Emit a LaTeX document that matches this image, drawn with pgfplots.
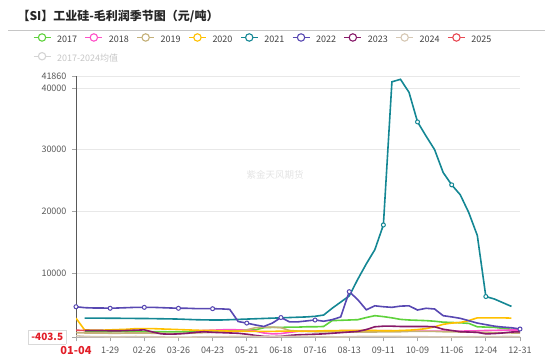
\documentclass[border=0pt]{standalone}
\usepackage{fontspec}
\setmainfont{Noto Sans CJK SC}
\usepackage{pgfplots}
\pgfplotsset{compat=1.18}
\definecolor{c17}{RGB}{95,210,60}
\definecolor{c18}{RGB}{255,80,200}
\definecolor{c19}{RGB}{196,176,120}
\definecolor{c20}{RGB}{255,192,0}
\definecolor{c21}{RGB}{20,135,148}
\definecolor{c22}{RGB}{88,72,178}
\definecolor{c23}{RGB}{135,25,105}
\definecolor{c24}{RGB}{214,200,180}
\definecolor{c25}{RGB}{232,72,82}
\definecolor{cavg}{RGB}{212,212,212}
\definecolor{ptred}{RGB}{226,30,40}
\begin{document}
\begin{tikzpicture}
\path[use as bounding box] (0,0) rectangle (550bp,357bp);
\node[anchor=west, font=\bfseries\fontsize{12bp}{14bp}\selectfont, text=black!85] at (14bp,341bp) {【SI】工业硅-毛利润季节图（元/吨）};
\draw[gray!45, line width=0.8bp] (8bp,327bp) -- (545bp,327bp);
\node[text=gray!22, font=\fontsize{9.5bp}{11bp}\selectfont] at (275bp,182bp) {紫金天风期货};
\begin{axis}[
  at={(76bp,19.7bp)}, anchor=south west,
  scale only axis, width=444bp, height=260.8bp,
  xmin=0, xmax=52, ymin=-403.5, ymax=41860,
  scaled y ticks=false,
  axis lines=left, axis line style={-},
  x axis line style={draw=gray!60, line width=0.8bp},
  y axis line style={draw=black!65, line width=0.8bp},
  xtick={0,4,...,52},
  xticklabels={{\textcolor{ptred}{\bfseries\fontsize{11bp}{13bp}\selectfont 01-04}},1-29,02-26,03-26,04-23,05-21,06-18,07-16,08-13,09-11,10-09,11-06,12-04,12-31},
  ytick={-403.5,10000,20000,30000,40000,41860},
  yticklabels={{\fcolorbox{gray!30}{white}{\textcolor{ptred}{\bfseries\fontsize{10bp}{12bp}\selectfont -403.5}}},10000,20000,30000,40000,41860},
  tick align=outside, major tick length=4bp,
  tick style={draw=gray!70, line width=0.8bp},
  ymajorgrids, major grid style={draw=gray!18, line width=0.8bp},
  ticklabel style={font=\fontsize{9bp}{11bp}\selectfont, text=black!65},
  xticklabel style={yshift=-2bp},
  yticklabel style={xshift=-2bp},
  legend columns=9,
  legend cell align=left,
  legend image code/.code={\draw[#1] (0bp,3bp) -- (17bp,3bp); \draw[#1, fill=white] (8.5bp,3bp) circle (3.7bp);},
  legend style={at={(-0.09685,1.1659)}, anchor=north west, draw=none, fill=none,
    inner sep=0pt, outer sep=0pt, row sep=7bp,
    font=\fontsize{9bp}{11bp}\selectfont, text=black!75,
    nodes={inner sep=0pt, text height=7bp, text depth=2bp},
    /tikz/every odd column/.style={column sep=6bp},
    /tikz/every even column/.style={column sep=5.7bp}},
]
\addlegendimage{draw=c17, line width=1.1bp}\addlegendentry{\makebox[22bp][l]{2017}}
\addlegendimage{draw=c18, line width=1.1bp}\addlegendentry{\makebox[22bp][l]{2018}}
\addlegendimage{draw=c19, line width=1.1bp}\addlegendentry{\makebox[22bp][l]{2019}}
\addlegendimage{draw=c20, line width=1.1bp}\addlegendentry{\makebox[22bp][l]{2020}}
\addlegendimage{draw=c21, line width=1.1bp}\addlegendentry{\makebox[22bp][l]{2021}}
\addlegendimage{draw=c22, line width=1.1bp}\addlegendentry{\makebox[22bp][l]{2022}}
\addlegendimage{draw=c23, line width=1.1bp}\addlegendentry{\makebox[22bp][l]{2023}}
\addlegendimage{draw=c24, line width=1.1bp}\addlegendentry{\makebox[22bp][l]{2024}}
\addlegendimage{draw=c25, line width=1.1bp}\addlegendentry{\makebox[22bp][l]{2025}}
\addlegendimage{draw=cavg, line width=1.1bp}\addlegendentry{\makebox[22bp][l]{\textcolor{gray!45}{2017-2024均值}}}

% 2017
\addplot[c17, line width=1.6bp, forget plot] coordinates {
(1,550)(2,550)(3,500)(4,500)(5,520)(6,500)(7,500)(8,480)(9,500)(10,500)(11,480)(12,480)(13,500)(14,500)(15,520)(16,550)(17,600)(18,650)(19,700)(20,750)(21,800)(22,1150)(23,1200)(24,1200)(25,1250)(26,1250)(27,1300)(28,1300)(29,1350)(30,2300)(31,2350)(32,2400)(33,2450)(34,2800)(35,3100)(36,2950)(37,2750)(38,2500)(39,2400)(40,2350)(41,2300)(42,2200)(43,2050)(44,2000)(45,1950)(46,1850)(47,1300)(48,1250)(49,1200)(50,1050)(51,900)(52,700)};
% 2018
\addplot[c18, line width=1.6bp, forget plot] coordinates {
(14,650)(15,700)(16,750)(17,800)(18,850)(19,800)(20,750)(21,600)(22,300)(23,150)(24,200)(25,400)(26,550)(27,600)(28,600)(29,600)(30,620)(31,650)(32,650)(33,650)(34,650)(35,650)(36,650)(37,650)(38,620)(39,600)(40,600)(41,600)(42,600)(43,600)(44,600)(45,600)(46,620)(47,650)(48,700)(49,720)(50,750)(51,780)(52,780)};
% 2019
\addplot[c19, line width=1.6bp, forget plot] coordinates {
(0,350)(1,300)(2,300)(3,300)(4,250)(5,250)(6,300)(7,300)(8,300)(9,250)(10,250)(11,200)(12,200)(13,250)(14,300)(15,350)(16,400)(17,450)(18,500)(19,600)(20,800)(21,1150)(22,1250)(23,1250)(24,1150)(25,700)(26,600)(27,550)(28,500)(29,500)(30,500)(31,450)(32,450)(33,450)(34,450)(35,450)(36,500)(37,500)(38,500)(39,550)(40,550)(41,550)(42,550)(43,500)(44,500)(45,450)(46,450)(47,400)(48,400)(49,350)(50,350)(51,300)(52,300)};
% 2020
\addplot[c20, line width=1.6bp, forget plot] coordinates {
(0,2700)(1,800)(2,750)(3,750)(4,800)(5,850)(6,900)(7,1000)(8,1000)(9,1000)(10,950)(11,900)(12,850)(13,800)(14,750)(15,700)(16,700)(17,650)(18,600)(19,600)(20,550)(21,550)(22,550)(23,550)(24,600)(25,600)(26,600)(27,600)(28,600)(29,650)(30,650)(31,700)(32,700)(33,700)(34,700)(35,700)(36,650)(37,650)(38,700)(39,750)(40,850)(41,1000)(42,1300)(43,1700)(44,1900)(45,2000)(46,2300)(47,2750)(48,2750)(49,2750)(50,2750)(51,2700)};
% 2021
\addplot[c21, line width=1.6bp, forget plot, mark=*, mark size=2bp, mark options={fill=white, draw=c21, line width=1bp}, mark indices={36,40,44,48}] coordinates {
(1,2700)(2,2700)(3,2700)(4,2680)(5,2680)(6,2660)(7,2650)(8,2650)(9,2620)(10,2600)(11,2580)(12,2550)(13,2500)(14,2450)(15,2420)(16,2400)(17,2400)(18,2450)(19,2500)(20,2550)(21,2600)(22,2650)(23,2700)(24,2750)(25,2800)(26,2850)(27,2900)(28,3000)(29,3200)(30,4300)(31,5300)(32,6300)(33,9000)(34,11500)(35,13800)(36,17800)(37,41000)(38,41400)(39,39300)(40,34500)(41,32200)(42,30000)(43,26300)(44,24300)(45,22700)(46,19800)(47,16100)(48,6200)(49,5800)(50,5200)(51,4600)};
% 2022
\addplot[c22, line width=1.6bp, forget plot, mark=*, mark size=2bp, mark options={fill=white, draw=c22, line width=1bp}, mark indices={1,5,9,13,17,21,25,29,33,53}] coordinates {
(0,4550)(1,4400)(2,4350)(3,4350)(4,4300)(5,4350)(6,4400)(7,4450)(8,4450)(9,4450)(10,4400)(11,4350)(12,4300)(13,4300)(14,4250)(15,4250)(16,4230)(17,4200)(18,4130)(19,2150)(20,1900)(21,1600)(22,1350)(23,1900)(24,2800)(25,2100)(26,2100)(27,2250)(28,2400)(29,2200)(30,2450)(31,2900)(32,6990)(33,5700)(34,4050)(35,4700)(36,4550)(37,4450)(38,4650)(39,4700)(40,4020)(41,4300)(42,4180)(43,3100)(44,2900)(45,2670)(46,2290)(47,1900)(48,1650)(49,1400)(50,1250)(51,1150)(52,940)};
% 2023
\addplot[c23, line width=1.6bp, forget plot] coordinates {
(1,700)(2,700)(3,700)(4,650)(5,650)(6,700)(7,750)(8,800)(9,450)(10,150)(11,100)(12,150)(13,250)(14,400)(15,500)(16,400)(17,350)(18,300)(19,250)(20,100)(21,-100)(22,-250)(23,-300)(24,-250)(25,-100)(26,0)(27,50)(28,100)(29,150)(30,250)(31,350)(32,450)(33,550)(34,850)(35,1300)(36,1400)(37,1400)(38,1350)(39,1350)(40,1350)(41,1350)(42,1300)(43,900)(44,700)(45,500)(46,450)(47,400)(48,150)(49,200)(50,300)(51,450)(52,500)};
% 2024
\addplot[c24, line width=1.6bp, forget plot] coordinates {
(0,-150)(1,-250)(2,-300)(3,-300)(4,-320)(5,-330)(6,-300)(7,-280)(8,-300)(9,-320)(10,-350)(11,-380)(12,-403.5)(13,-380)(14,-350)(15,-330)(16,-300)(17,-300)(18,-280)(19,-250)(20,-250)(21,-280)(22,-300)(23,-300)(24,-280)(25,-250)(26,-250)(27,-250)(28,-280)(29,-300)(30,-320)(31,-330)(32,-300)(33,-280)(34,-250)(35,-250)(36,-250)(37,-250)(38,-280)(39,-300)(40,-300)(41,-320)(42,-330)(43,-350)(44,-350)(45,-330)(46,-320)(47,-300)(48,-300)(49,-300)(50,-280)(51,-280)(52,-300)};
% 2025
\addplot[c25, line width=1.6bp, forget plot] coordinates {(0,750)(1,700)};
\end{axis}
\end{tikzpicture}
\end{document}
